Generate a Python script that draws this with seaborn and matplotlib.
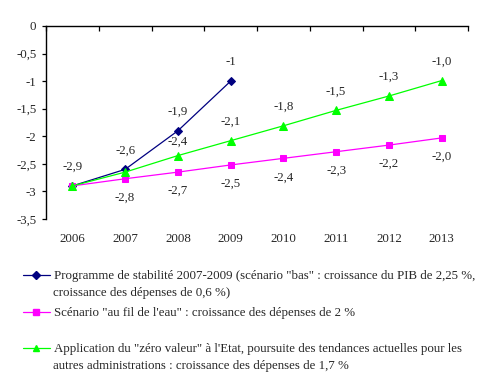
import matplotlib
matplotlib.use("Agg")
import matplotlib.pyplot as plt
import seaborn as sns
import pandas as pd
from matplotlib.lines import Line2D

years = ["2006", "2007", "2008", "2009", "2010", "2011", "2012", "2013"]
prog_vals = [-2.9, -2.6, -1.9, -1.0]
prog_labels = ["-2,9", "-2,6", "-1,9", "-1"]
fil_vals = [-2.9, -2.77, -2.65, -2.52, -2.40, -2.28, -2.16, -2.03]
fil_labels = [None, "-2,8", "-2,7", "-2,5", "-2,4", "-2,3", "-2,2", "-2,0"]
zero_vals = [-2.9, -2.65, -2.35, -2.08, -1.81, -1.53, -1.27, -0.99]
zero_labels = [None, None, "-2,4", "-2,1", "-1,8", "-1,5", "-1,3", "-1,0"]

series_names = ["prog", "fil", "zero"]
colors = {"prog": "#000080", "fil": "#FF00FF", "zero": "#00FF00"}
markers = {"prog": "D", "fil": "s", "zero": "^"}
msizes = {"prog": 4.0, "fil": 5.0, "zero": 5.5}

legend_first = [
    "Programme de stabilité 2007-2009 (scénario \"bas\" : croissance du PIB de 2,25 %,",
    "Scénario \"au fil de l'eau\" : croissance des dépenses de 2 %",
    "Application du \"zéro valeur\" à l'Etat, poursuite des tendances actuelles pour les",
]
legend_second = [
    "croissance des dépenses de 0,6 %)",
    None,
    "autres administrations : croissance des dépenses de 1,7 %",
]

rows = []
for name, vals in zip(series_names, [prog_vals, fil_vals, zero_vals]):
    for i, v in enumerate(vals):
        rows.append({"serie": name, "idx": i, "val": v})
df = pd.DataFrame(rows)

FS = 9.25
sns.set_style("white")
plt.rcParams["font.family"] = ["Liberation Serif", "DejaVu Serif"]
plt.rcParams["font.size"] = FS

fig = plt.figure(figsize=(4.83, 3.80), dpi=100)
ax = fig.add_axes([46 / 483, 1 - 219 / 380, (468 - 46) / 483, (219 - 26) / 380])

for name in series_names:
    sub = df[df.serie == name]
    sns.lineplot(data=sub, x="idx", y="val", color=colors[name], marker=markers[name],
                 markersize=msizes[name], markeredgecolor=colors[name], linewidth=0.9,
                 ax=ax, legend=False)

off = 19
for i, (v, t) in enumerate(zip(prog_vals, prog_labels)):
    ax.annotate(t, (i, v), xytext=(0, off), textcoords="offset pixels", ha="center", va="center", fontsize=FS)
for i, (v, t) in enumerate(zip(fil_vals, fil_labels)):
    if t:
        ax.annotate(t, (i, v), xytext=(0, -off), textcoords="offset pixels", ha="center", va="center", fontsize=FS)
for i, (v, t) in enumerate(zip(zero_vals, zero_labels)):
    if t:
        o = 14 if i == 2 else off
        ax.annotate(t, (i, v), xytext=(0, o), textcoords="offset pixels", ha="center", va="center", fontsize=FS)

ax.set_xlim(-0.5, len(years) - 0.5)
ax.set_ylim(-3.5, 0)
ax.set_xlabel("")
ax.set_ylabel("")

yt = [0, -0.5, -1, -1.5, -2, -2.5, -3, -3.5]
ax.set_yticks(yt)
ax.set_yticklabels([("%g" % t).replace(".", ",") for t in yt])
ax.set_xticks(range(len(years)))
ax.set_xticklabels(years)
ax.set_xticks([i - 0.5 for i in range(len(years) + 1)], minor=True)

ax.tick_params(axis="x", which="major", bottom=True, top=False, length=0, pad=10, labelsize=FS)
ax.tick_params(axis="x", which="minor", bottom=False, top=True, direction="in", length=3.6, width=0.9, color="black")
ax.tick_params(axis="y", which="major", left=True, direction="out", length=3, width=0.9, pad=4, labelsize=FS, color="black")

for s in ["bottom", "right"]:
    ax.spines[s].set_visible(False)
for s in ["top", "left"]:
    ax.spines[s].set_visible(True)
    ax.spines[s].set_color("black")
    ax.spines[s].set_linewidth(1.0)
ax.grid(False)

# Legend entries
leg_y = [276, 313, 349]
sec_y = [293, None, 366]
for k, name in enumerate(series_names):
    h = Line2D([], [], color=colors[name], marker=markers[name], markersize=msizes[name] * 0.9,
               markeredgecolor=colors[name], linewidth=0.9)
    lg = fig.legend([h], [legend_first[k]], loc="center left",
                    bbox_to_anchor=(23 / 483, 1 - leg_y[k] / 380), frameon=False,
                    borderpad=0, borderaxespad=0, handlelength=2.1, handletextpad=0.3,
                    fontsize=FS)
    if legend_second[k]:
        fig.text(53 / 483, 1 - sec_y[k] / 380, legend_second[k], ha="left", va="center", fontsize=FS)

fig.savefig("out.png", dpi=100)
